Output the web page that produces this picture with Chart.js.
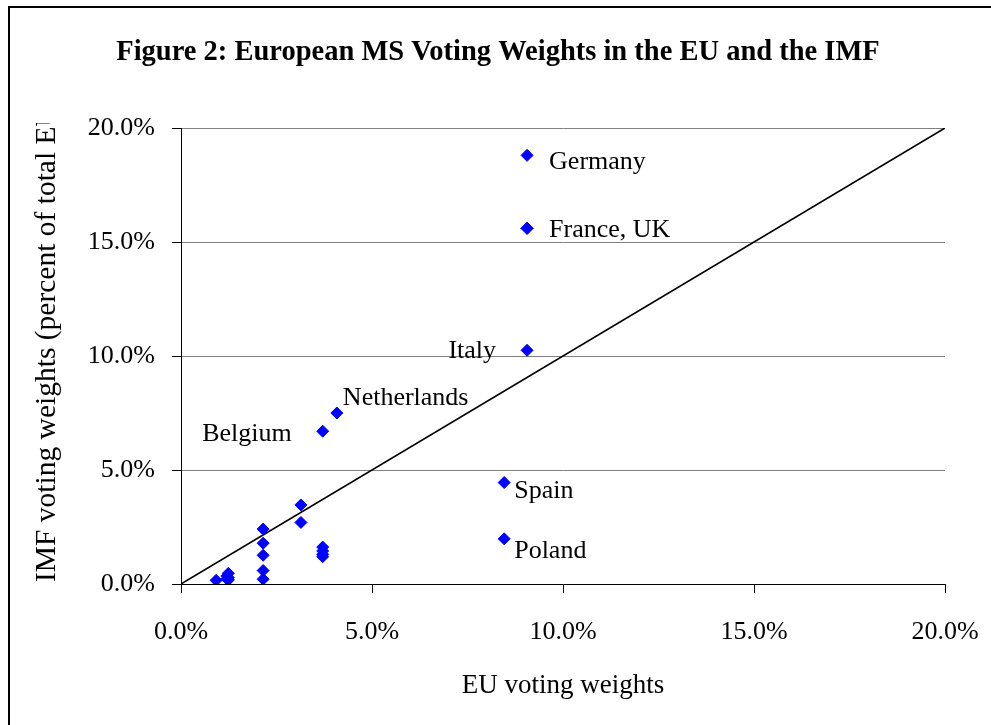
<!DOCTYPE html>
<html>
<head>
<meta charset="utf-8">
<script src="https://cdn.jsdelivr.net/npm/chart.js@4.4.0/dist/chart.umd.min.js"></script>
<style>
  html, body { margin: 0; padding: 0; background: #fff; }
  #wrap { width: 991px; height: 725px; position: relative; }
</style>
</head>
<body>
<div id="wrap"><canvas id="weightsChart" width="991" height="725"></canvas></div>
<script>
// EU vs IMF voting weights (percent)
const countries = ['Germany', 'France', 'UK', 'Italy', 'Spain', 'Poland', 'Netherlands', 'Belgium',
  'Czech Republic', 'Greece', 'Hungary', 'Portugal', 'Austria', 'Sweden',
  'Denmark', 'Ireland', 'Lithuania', 'Slovakia', 'Finland',
  'Cyprus', 'Estonia', 'Latvia', 'Luxembourg', 'Slovenia', 'Malta'];
const euWeights = [9.06, 9.06, 9.06, 9.06, 8.46, 8.46, 4.08, 3.71,
  3.71, 3.71, 3.71, 3.71, 3.14, 3.14,
  2.15, 2.15, 2.15, 2.15, 2.15,
  1.24, 1.20, 1.24, 1.20, 1.24, 0.92];
const imfWeights = [18.80, 15.60, 15.60, 10.25, 4.45, 1.98, 7.50, 6.70,
  1.62, 1.45, 1.30, 1.20, 3.47, 2.70,
  2.41, 1.79, 1.26, 0.59, 0.21,
  0.47, 0.35, 0.18, 0.22, 0.28, 0.16];
const equalityLine = [0, 20];
const axisTicks = [0, 5, 10, 15, 20];

// which points carry a text label
const pointLabels = { Germany: 'Germany', France: 'France, UK', Italy: 'Italy', Spain: 'Spain',
  Poland: 'Poland', Netherlands: 'Netherlands', Belgium: 'Belgium' };

const serif = '"Liberation Serif", "Times New Roman", serif';

window.addEventListener('load', () => {
  const ctx = document.getElementById('weightsChart').getContext('2d');

  const points = euWeights.map((x, i) => ({ x: x, y: imfWeights[i] }));

  // label placement (offsets from the marker, in px)
  const labelPos = {
    Germany: { dx: 22, dy: 7, align: 'left' },
    France: { dx: 22, dy: 2, align: 'left' },
    Italy: { dx: -31, dy: 1, align: 'right' },
    Spain: { dx: 10, dy: 9, align: 'left' },
    Poland: { dx: 10, dy: 12, align: 'left' },
    Netherlands: { dx: 6, dy: -15, align: 'left' },
    Belgium: { dx: -31, dy: 3, align: 'right' }
  };

  const decorations = {
    id: 'decorations',
    afterDraw(chart) {
      const c = chart.ctx;
      c.save();
      // frame
      c.strokeStyle = '#000';
      c.lineWidth = 2;
      c.beginPath();
      c.moveTo(9, 725);
      c.lineTo(9, 7);
      c.lineTo(991, 7);
      c.stroke();
      // title
      c.fillStyle = '#000';
      c.font = 'bold 28.5px ' + serif;
      c.textAlign = 'center';
      c.textBaseline = 'alphabetic';
      c.fillText('Figure 2: European MS Voting Weights in the EU and the IMF', 498, 60);
      // y axis title, cut off at the top like the original
      c.save();
      c.beginPath();
      c.rect(0, 123, 181, 602);
      c.clip();
      c.translate(55, 582);
      c.rotate(-Math.PI / 2);
      c.font = '29.5px ' + serif;
      c.textAlign = 'left';
      c.fillText('IMF voting weights (percent of total EU voting weights)', 0, 0);
      c.restore();
      // x axis title
      c.font = '27px ' + serif;
      c.textAlign = 'center';
      c.fillText('EU voting weights', 563, 693);
      c.restore();
    },
    afterDatasetsDraw(chart) {
      const c = chart.ctx;
      const meta = chart.getDatasetMeta(1);
      c.save();
      c.font = '26px ' + serif;
      c.fillStyle = '#000';
      c.textBaseline = 'middle';
      countries.forEach((name, i) => {
        if (!pointLabels[name]) return;
        const p = meta.data[i];
        const pos = labelPos[name];
        c.textAlign = pos.align;
        c.fillText(pointLabels[name], p.x + pos.dx, p.y + pos.dy);
      });
      c.restore();
    }
  };

  new Chart(ctx, {
    type: 'scatter',
    data: {
      datasets: [{
        type: 'line',
        data: equalityLine.map(v => ({ x: v, y: v })),
        borderColor: '#000',
        borderWidth: 1.6,
        pointRadius: 0,
        fill: false,
        order: 2
      }, {
        data: points,
        pointStyle: 'rectRot',
        pointRadius: 6,
        pointHoverRadius: 6,
        backgroundColor: '#0000ff',
        borderColor: '#0000ff',
        borderWidth: 1,
        order: 1
      }]
    },
    options: {
      responsive: false,
      animation: false,
      events: [],
      layout: { padding: { left: 0, top: 128, right: 46, bottom: 0 } },
      plugins: { legend: { display: false }, tooltip: { enabled: false }, title: { display: false } },
      scales: {
        x: {
          type: 'linear', min: 0, max: 20,
          afterFit: s => { s.height = 141; s.paddingRight = 0; s.paddingLeft = 0; },
          afterBuildTicks: s => { s.ticks = axisTicks.map(v => ({ value: v })); },
          ticks: {
            padding: 24, color: '#000', maxRotation: 0,
            font: { family: serif, size: 26 },
            callback: v => v.toFixed(1) + '%'
          },
          grid: { drawOnChartArea: false, drawTicks: true, tickLength: 9, tickColor: '#000' },
          border: { color: '#000', width: 1 }
        },
        y: {
          type: 'linear', min: 0, max: 20,
          afterFit: s => { s.width = 181; },
          afterBuildTicks: s => { s.ticks = axisTicks.map(v => ({ value: v })); },
          ticks: {
            padding: 17, color: '#000',
            font: { family: serif, size: 26 },
            callback: v => v.toFixed(1) + '%'
          },
          grid: { color: '#808080', lineWidth: 1, drawTicks: true, tickLength: 9, tickColor: '#000' },
          border: { color: '#000', width: 1 }
        }
      }
    },
    plugins: [decorations]
  });
});
</script>
</body>
</html>
